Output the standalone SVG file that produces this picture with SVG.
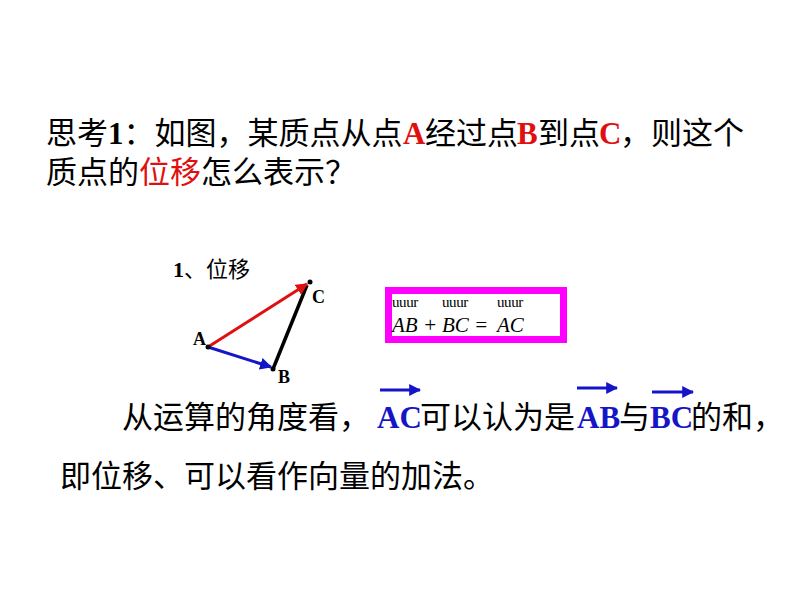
<svg xmlns="http://www.w3.org/2000/svg" width="794" height="596" viewBox="0 0 794 596">
<style>
text{font-family:"Liberation Serif","Noto Sans CJK SC",serif;fill:#000}
.big{font-size:31px}
.b{font-weight:bold}
.red{fill:#E01010}
.blue{fill:#1515C8}
.lbl{font-size:18px;font-weight:bold}
.math{font-size:21px;font-style:italic}
.ov{font-size:15px;letter-spacing:-0.4px}
</style>
<defs>
<marker id="hRed" viewBox="0 0 10 10" refX="9" refY="5" markerWidth="4" markerHeight="4" orient="auto" markerUnits="strokeWidth"><path d="M0,0 L10,5 L0,10 z" fill="#E01010"/></marker>
<marker id="hBlue" viewBox="0 0 10 10" refX="9" refY="5" markerWidth="4" markerHeight="4" orient="auto" markerUnits="strokeWidth"><path d="M0,0 L10,5 L0,10 z" fill="#1515C8"/></marker>
</defs>
<rect width="794" height="596" fill="#fff"/>

<g id="title">
<text class="big" y="144"><tspan x="46">思考</tspan><tspan class="b">1</tspan><tspan>：如图，某质点从点</tspan><tspan x="403" class="b red">A</tspan><tspan x="425">经过点</tspan><tspan x="517" class="b red">B</tspan><tspan x="538">到点</tspan><tspan x="599" class="b red">C</tspan><tspan x="620">，则这个</tspan></text>
<text class="big" y="183"><tspan x="46">质点的</tspan><tspan class="red">位移</tspan><tspan>怎么表示？</tspan></text>
</g>

<g id="label-1">
<text x="173" y="277" style="font-size:22px"><tspan class="b">1</tspan>、位移</text>
</g>

<g id="connectors" fill="none">
<line x1="273" y1="369" x2="307" y2="285" stroke="#000" stroke-width="3.5"/>
<line x1="208" y1="347" x2="307" y2="284" stroke="#E01010" stroke-width="3" marker-end="url(#hRed)"/>
<line x1="208" y1="347" x2="271" y2="367" stroke="#1515C8" stroke-width="3" marker-end="url(#hBlue)"/>
</g>

<g id="point-A">
<circle cx="208" cy="347" r="2.5" fill="#000"/>
<text class="lbl" x="193" y="345">A</text>
</g>
<g id="point-B">
<circle cx="273" cy="369" r="2.5" fill="#000"/>
<text class="lbl" x="278" y="383">B</text>
</g>
<g id="point-C">
<circle cx="310" cy="282" r="2.5" fill="#000"/>
<text class="lbl" x="312" y="303">C</text>
</g>

<g id="formula">
<rect x="388.5" y="290.5" width="175" height="49" fill="none" stroke="#FF00FF" stroke-width="7"/>
<text class="ov" x="392" y="307">uuur</text>
<text class="ov" x="442" y="307">uuur</text>
<text class="ov" x="497" y="307">uuur</text>
<text class="math" x="392" y="332">AB +</text>
<text class="math" x="442" y="332">BC =</text>
<text class="math" x="497" y="332">AC</text>
</g>

<g id="explain">
<text class="big" y="428"><tspan x="122">从运算的角度看，</tspan><tspan x="377" class="b blue">AC</tspan><tspan x="420">可以认为是</tspan><tspan x="577" class="b blue">AB</tspan><tspan x="619">与</tspan><tspan x="650" class="b blue">BC</tspan><tspan x="691">的和，</tspan></text>
<text class="big" x="60" y="487">即位移、可以看作向量的加法。</text>
<g stroke="#1515C8" stroke-width="3">
<line x1="380" y1="390" x2="420" y2="390" marker-end="url(#hBlue)"/>
<line x1="577" y1="388" x2="617" y2="388" marker-end="url(#hBlue)"/>
<line x1="652" y1="392" x2="693" y2="392" marker-end="url(#hBlue)"/>
</g>
</g>
</svg>
